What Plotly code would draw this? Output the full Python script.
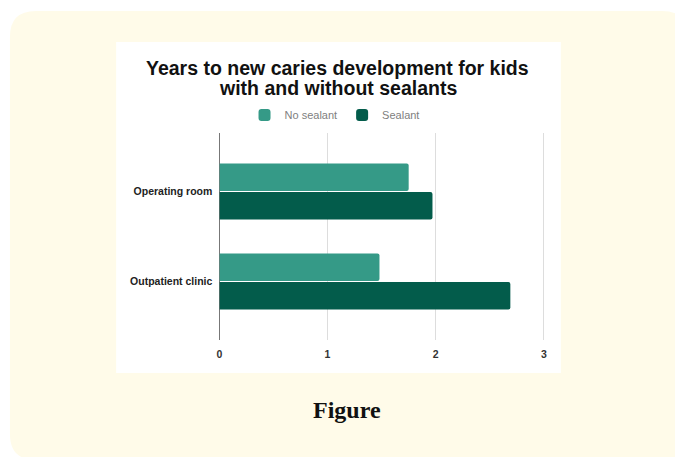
import plotly.graph_objects as go

categories = ["Operating room", "Outpatient clinic"]
no_sealant = [1.75, 1.48]
sealant = [1.97, 2.69]
x_ticks = [0, 1, 2, 3]
series_names = ["No sealant", "Sealant"]
title_lines = ["Years to new caries development for kids", "with and without sealants"]
caption = "Figure"

W, H = 675, 457

def px(x):
    return x / W

def py(y):
    return 1 - y / H

fig = go.Figure()
fig.add_trace(go.Bar(
    y=categories, x=no_sealant, name=series_names[0], orientation="h",
    marker=dict(color="#359a87", line=dict(width=0)),
))
fig.add_trace(go.Bar(
    y=categories, x=sealant, name=series_names[1], orientation="h",
    marker=dict(color="#035c4b", line=dict(width=0)),
))

# rounded yellow panel
x0, x1, y0, y1 = px(7), px(690), py(11), py(460)
rx, ry = 26 / W, 26 / H
path = (f"M {x0+rx},{y0} L {x1-rx},{y0} Q {x1},{y0} {x1},{y0-ry} "
        f"L {x1},{y1+ry} Q {x1},{y1} {x1-rx},{y1} L {x0+rx},{y1} "
        f"Q {x0},{y1} {x0},{y1+ry} L {x0},{y0-ry} Q {x0},{y0} {x0+rx},{y0} Z")
shapes = [
    dict(type="path", xref="paper", yref="paper", path=path,
         fillcolor="#fffbe9", line=dict(width=0), layer="below"),
    dict(type="rect", xref="paper", yref="paper",
         x0=px(114), x1=px(562), y0=py(42), y1=py(373),
         fillcolor="#ffffff", line=dict(width=0), layer="below"),
]

title_font = dict(family="Liberation Sans, Arial", size=19.5, color="#111111")
annotations = [
    dict(text=f"<b>{line}</b>", x=px(337), y=py(yc), xref="paper", yref="paper",
         xanchor="center", yanchor="middle", showarrow=False, font=title_font)
    for line, yc in zip(title_lines, [68, 88])
]
annotations.append(
    dict(text=f"<b>{caption}</b>", x=px(347), y=py(410), xref="paper", yref="paper",
         xanchor="center", yanchor="middle", showarrow=False,
         font=dict(family="Liberation Serif, Times New Roman", size=24, color="#111111"))
)

fig.update_layout(
    width=W, height=H,
    margin=dict(l=0, r=0, t=0, b=0),
    paper_bgcolor="#ffffff",
    plot_bgcolor="rgba(0,0,0,0)",
    shapes=shapes,
    barmode="group",
    bargap=0.37,
    bargroupgap=0.03,
    barcornerradius=2,
    showlegend=True,
    legend=dict(
        orientation="h", x=px(334), y=py(115), xanchor="center", yanchor="middle",
        font=dict(family="Liberation Sans, Arial", size=11, color="#808080"),
        itemwidth=30, bgcolor="rgba(0,0,0,0)", traceorder="normal",
    ),
    xaxis=dict(
        domain=[px(218), px(546)], range=[0, 3.01], tickvals=x_ticks,
        showgrid=True, gridcolor="#dddddd", gridwidth=1,
        zeroline=True, zerolinecolor="#777777", zerolinewidth=1,
        showline=False, ticks="", ticklabelstandoff=6,
        tickfont=dict(family="Liberation Sans, Arial", size=10.5, color="#333333", weight="bold"),
        fixedrange=True,
    ),
    yaxis=dict(
        domain=[py(340), py(133)], range=[1.65, -0.65],
        showgrid=False, zeroline=False, showline=False, ticks="",
        tickfont=dict(family="Liberation Sans, Arial", size=10.5, color="#222222", weight="bold"),
        ticklabelstandoff=6,
        fixedrange=True,
    ),
    annotations=annotations,
)

fig.write_html("out.html")
